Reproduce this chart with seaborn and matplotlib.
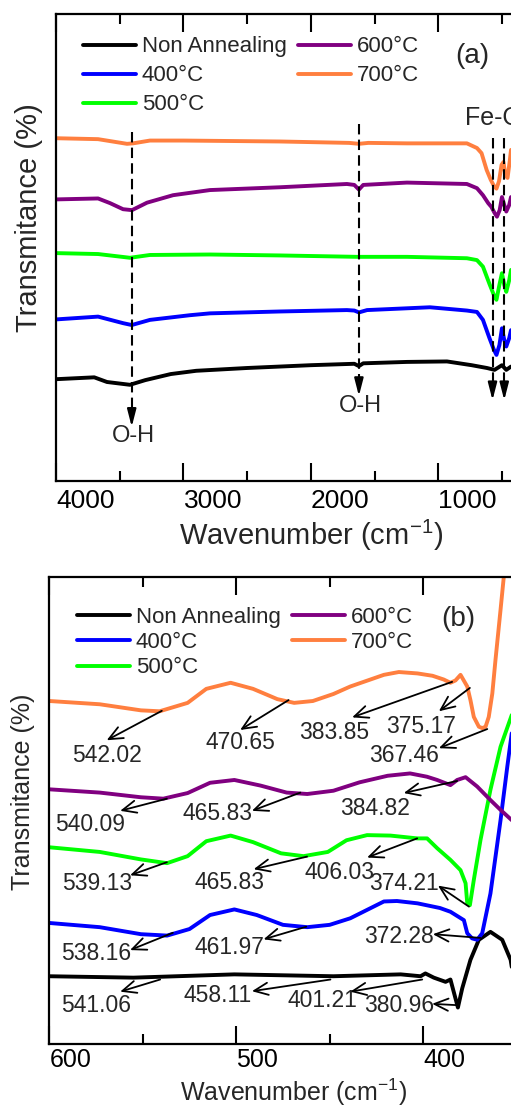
import numpy as np
import pandas as pd
import seaborn as sns
import matplotlib.pyplot as plt

sns.set_style("white")
plt.rcParams['font.family'] = ['Liberation Sans', 'DejaVu Sans']

samples = ['Non Annealing', '400°C', '500°C', '600°C', '700°C']
colors = ['#000000', '#0000FF', '#00FF00', '#800080', '#FF7F3F']

# ---- panel (a): full FTIR range (offset transmittance, arbitrary units)
wnA_black = [4000, 3700, 3600, 3420, 3300, 3100, 2900, 2500, 2000, 1660, 1624, 1590, 1247, 933, 740, 620, 560, 502, 468, 431]
tA_black = [21.8, 22.2, 21.2, 20.6, 21.6, 22.9, 23.6, 24.2, 24.8, 25.1, 24.6, 25.2, 25.5, 25.6, 24.8, 24.2, 23.8, 24.8, 23.8, 24.5]
wnA_400 = [4000, 3670, 3474, 3406, 3263, 2950, 2792, 2243, 1718, 1660, 1624, 1560, 1067, 777, 698, 651, 600, 565, 545, 522, 502, 484, 468, 445, 431]
tA_400 = [34.6, 35.2, 33.8, 33.4, 34.5, 35.5, 35.9, 36.3, 36.6, 36.5, 36.1, 36.6, 37.2, 36.5, 36.2, 34.5, 30.6, 28.1, 27.0, 29.1, 32.7, 30.2, 28.8, 30.6, 32.3]
wnA_500 = [4000, 3670, 3420, 3263, 2792, 2243, 1639, 1247, 777, 698, 651, 600, 565, 545, 522, 502, 484, 468, 445, 431]
tA_500 = [48.8, 48.6, 47.8, 48.4, 48.5, 48.3, 48.0, 48.0, 47.7, 47.3, 45.9, 42.2, 39.8, 38.8, 42.0, 44.5, 42.0, 40.5, 43.0, 45.2]
wnA_600 = [4000, 3670, 3576, 3474, 3404, 3286, 3082, 2792, 2243, 1718, 1660, 1624, 1590, 1247, 777, 698, 651, 610, 585, 560, 541, 520, 502, 484, 468, 445, 431]
tA_600 = [60.3, 60.5, 59.5, 58.2, 58.0, 59.6, 61.2, 62.3, 62.9, 63.6, 63.4, 62.4, 63.4, 63.9, 63.6, 62.7, 61.2, 59.5, 58.7, 57.4, 56.6, 58.0, 60.8, 59.1, 57.7, 59.1, 60.8]
wnA_700 = [4000, 3670, 3443, 3396, 3263, 3000, 2243, 1700, 1624, 1550, 1247, 777, 698, 662, 622, 590, 565, 545, 525, 505, 490, 475, 458, 440, 431]
tA_700 = [73.4, 73.2, 72.2, 72.3, 72.9, 72.9, 72.7, 72.4, 72.2, 72.4, 72.3, 72.3, 71.3, 70.2, 66.6, 64.5, 63.2, 62.6, 64.2, 67.7, 68.3, 65.5, 64.9, 68.7, 70.9]

# band markers in (a)
oh_bands = [3406, 1624]
feo_bands = [576, 484]

# ---- panel (b): 600-350 cm-1 region
wnB_black = [600, 555, 501, 448, 412, 401.4, 398.8, 394.3, 388, 385.4, 381.4, 379.1, 374.7, 370.2, 364.0, 357.7, 353.2, 352.6]
tB_black = [14.5, 14.2, 14.9, 14.5, 14.9, 14.5, 15.1, 14.2, 13.3, 13.8, 7.8, 11.9, 18.0, 22.3, 24.0, 22.3, 18.0, 16.5]
wnB_400 = [600, 573, 551, 537, 525, 514, 501, 489, 475, 462, 450, 439, 421, 414, 403, 391, 385.4, 378.2, 376.4, 373.8, 371.1, 368.4, 364.0, 358.6, 355.0, 352.6]
tB_400 = [25.9, 25.0, 23.5, 23.2, 24.6, 27.6, 28.8, 27.6, 25.5, 25.0, 25.5, 26.9, 30.5, 30.6, 30.1, 29.1, 28.3, 26.5, 23.7, 22.6, 22.3, 23.7, 32.2, 47.9, 59.3, 66.5]
wnB_500 = [600, 573, 551, 537, 526, 516, 503, 491, 476, 464, 451, 441, 430, 417.5, 403.2, 397.9, 392.5, 385.4, 380.0, 377.3, 376.4, 375.0, 372.9, 369.3, 364.0, 358.6, 352.6]
tB_500 = [42.1, 41.1, 39.5, 38.7, 40.2, 43.4, 44.6, 43.2, 40.8, 40.2, 41.1, 43.6, 44.7, 44.6, 44.0, 44.0, 41.9, 39.4, 37.2, 34.4, 30.1, 29.7, 35.1, 43.7, 54.4, 63.6, 70.4]
wnB_600 = [600, 573, 551, 539, 526, 514, 501, 487, 473, 462, 448, 434, 419, 407, 398, 392.5, 385.4, 381.8, 377.3, 371.1, 364.0, 358.6, 352.6]
tB_600 = [54.5, 53.8, 52.8, 52.5, 53.7, 55.9, 56.5, 55.3, 53.8, 53.5, 54.2, 56.0, 57.4, 57.9, 57.2, 56.5, 55.4, 56.5, 57.1, 55.1, 52.2, 50.1, 47.9]
wnB_700 = [600, 573, 551, 541, 526, 516, 503, 491, 478, 469, 459, 448, 439, 421, 413, 403, 395, 389, 385.4, 382.7, 380.0, 376.4, 374.7, 372.9, 370.2, 368.4, 366.6, 364.9, 363.0, 361.3, 358.6, 356.5, 355.0]
tB_700 = [73.4, 72.7, 71.4, 71.2, 73.0, 76.0, 77.3, 76.0, 73.8, 73.0, 73.4, 74.9, 76.5, 79.0, 79.6, 79.3, 78.8, 78.0, 77.3, 77.8, 79.0, 76.5, 73.6, 70.0, 67.9, 67.6, 67.9, 70.0, 75.0, 82.2, 92.9, 101.4, 106.5]

# peak positions labelled in (b)
peaks_black = [541.06, 458.11, 401.21, 380.96]
peaks_400 = [538.16, 461.97, 372.28]
peaks_500 = [539.13, 465.83, 406.03, 374.21]
peaks_600 = [540.09, 465.83, 384.82]
peaks_700 = [542.02, 470.65, 383.85, 375.17, 367.46]

# label placement: (text x, text y, arrow start x, y, arrow tip x, y)
place_black = [(575.2, 8.2, 540.7, 13.8, 562.1, 11.2), (510, 10.4, 449.6, 13.8, 491.6, 11.3),
               (453.8, 9.3, 400.5, 13.8, 439, 11.2), (412.7, 8.2, 381.4, 8.3, 395.2, 8.6)]
place_400 = [(575.2, 19.4, 533.9, 23.8, 556.8, 20.1), (503.8, 20.7, 462.5, 25.1, 485.4, 22.4),
             (413, 23.1, 369.3, 22.7, 394.8, 23.5)]
place_500 = [(574.6, 34.3, 537.1, 38.9, 556.8, 36.1), (503.8, 34.5, 462.1, 40.1, 490.7, 37.4),
             (444.8, 36.7, 403.2, 44.0, 430, 39.9), (410, 34.3, 375.5, 29.4, 392.1, 33.9)]
place_600 = [(578.4, 46.9, 537.1, 52.5, 562.1, 49.9), (510, 49.4, 465.7, 53.8, 491.6, 49.9),
             (426, 50.4, 381.8, 56.3, 410.4, 53.7)]
place_700 = [(569.3, 61.8, 539.8, 71.3, 569.3, 65.0), (497.5, 64.5, 472, 73.6, 497.9, 67.2),
             (447.5, 66.7, 384.5, 77.5, 438, 69.9), (401, 68.0, 375, 76.2, 391.6, 71.2),
             (410, 61.8, 365.7, 67.4, 391.6, 63.3)]


def to_long(wns, ts):
    frames = []
    for name, w, t in zip(samples, wns, ts):
        frames.append(pd.DataFrame({'wn': w, 'T': t, 'sample': name}))
    return pd.concat(frames, ignore_index=True)


dfA = to_long([wnA_black, wnA_400, wnA_500, wnA_600, wnA_700],
              [tA_black, tA_400, tA_500, tA_600, tA_700])
dfB = to_long([wnB_black, wnB_400, wnB_500, wnB_600, wnB_700],
              [tB_black, tB_400, tB_500, tB_600, tB_700])

W, H = 511, 1106
fig = plt.figure(figsize=(W / 100, H / 100), dpi=100)
axA = fig.add_axes([56 / W, 1 - 481 / H, 455 / W, 467 / H])
axB = fig.add_axes([49.3 / W, 1 - 1044 / H, 461.7 / W, 467.3 / H])

xlabel = 'Wavenumber (cm$^{\\mathregular{-1}}$)'


def style_axis(ax, xlim, major, minor, label_x, label_y, ylab_x, ylab_y, labsize, ticksize, pad):
    ax.set_xlim(*xlim)
    ax.set_ylim(0, 100)
    ax.set_xticks(major)
    ax.set_xticks(minor, minor=True)
    ax.set_xticklabels([str(m) for m in major])
    ax.set_yticks([])
    for lab in ax.get_xticklabels():
        lab.set_ha('left')
    ax.tick_params(axis='x', which='both', direction='in', top=True, bottom=True,
                   width=1.5, labelsize=ticksize, pad=pad, colors='black')
    ax.tick_params(axis='x', which='major', length=13)
    ax.tick_params(axis='x', which='minor', length=7)
    for side in ['left', 'top', 'bottom']:
        ax.spines[side].set_linewidth(1.6)
        ax.spines[side].set_color('black')
    ax.spines['right'].set_visible(False)
    ax.set_xlabel(xlabel, fontsize=labsize)
    ax.xaxis.set_label_coords(label_x, label_y)
    ax.set_ylabel('Transmitance (%)', fontsize=labsize)
    ax.yaxis.set_label_coords(ylab_x, ylab_y)


def draw_panel(ax, df, anchor, spacing):
    sns.lineplot(data=df, x='wn', y='T', hue='sample', hue_order=samples, palette=colors,
                 sort=False, estimator=None, linewidth=2.8, ax=ax)
    handles, labels = ax.get_legend_handles_labels()
    ax.legend(handles, labels, ncol=2, loc='upper left', bbox_to_anchor=anchor, frameon=False,
              fontsize=16, handlelength=2.4, handletextpad=0.25, labelspacing=spacing,
              columnspacing=0.5, borderpad=0, borderaxespad=0)


# panel (a)
draw_panel(axA, dfA, (0.059, 0.952), 0.36)
style_axis(axA, (4000, 431), [4000, 3000, 2000, 1000], [3500, 2500, 1500, 500],
           0.56, -0.078, -0.028, 0.565, 21, 19, 6)
axA.text(0.915, 0.91, '(a)', transform=axA.transAxes, fontsize=20, ha='center', va='center')

dash = (0, (5, 2.5))
oh_top = [74.7, 76.4]
oh_tip = [11.6, 18.2]
for wn, top, tip in zip(oh_bands, oh_top, oh_tip):
    axA.plot([wn, wn], [top, tip + 3], color='black', lw=1.5, ls=dash)
    axA.annotate('', xy=(wn, tip), xytext=(wn, tip + 3.2),
                 arrowprops=dict(arrowstyle='-|>,head_length=0.7,head_width=0.18', color='black',
                                 lw=1.5, shrinkA=0, shrinkB=0, mutation_scale=15))
    axA.text(wn - 15, tip + 0.3, 'O-H', fontsize=17, ha='center', va='top')
for wn in feo_bands:
    axA.plot([wn, wn], [73.4, 17.3 + 3], color='black', lw=1.5, ls=dash)
    axA.annotate('', xy=(wn, 17.3), xytext=(wn, 17.3 + 3.2),
                 arrowprops=dict(arrowstyle='-|>,head_length=0.7,head_width=0.18', color='black',
                                 lw=1.5, shrinkA=0, shrinkB=0, mutation_scale=15))
axA.text(792, 76.2, 'Fe-O', fontsize=18, ha='left', va='baseline', clip_on=False)

# panel (b)
draw_panel(axB, dfB, (0.06, 0.936), 0.2)
style_axis(axB, (600, 353), [600, 500, 400], [550, 450],
           0.53, -0.07, -0.03, 0.539, 18, 18, 3)
axB.text(0.885, 0.91, '(b)', transform=axB.transAxes, fontsize=20, ha='center', va='center')

for peaks, places in [(peaks_black, place_black), (peaks_400, place_400), (peaks_500, place_500),
                      (peaks_600, place_600), (peaks_700, place_700)]:
    for p, (tx, ty, sx, sy, ex, ey) in zip(peaks, places):
        axB.text(tx, ty, f'{p:.2f}', fontsize=16.5, ha='center', va='center')
        axB.annotate('', xy=(ex, ey), xytext=(sx, sy),
                     arrowprops=dict(arrowstyle='->,head_length=0.5,head_width=0.22', color='black',
                                     lw=1.3, shrinkA=0, shrinkB=0, mutation_scale=20))

fig.savefig('out.png', dpi=100)
